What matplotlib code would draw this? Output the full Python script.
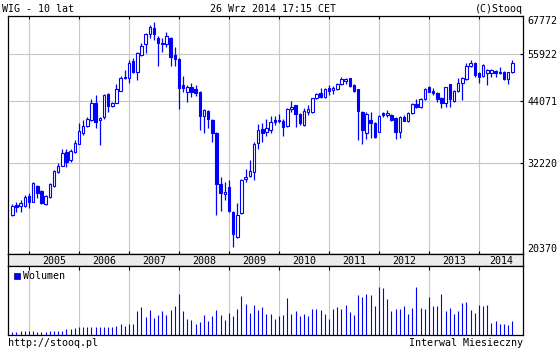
import matplotlib
matplotlib.use("Agg")
import matplotlib.pyplot as plt
from matplotlib.ticker import NullLocator, NullFormatter
import numpy as np
import pandas as pd

plt.rcParams['font.family'] = 'DejaVu Sans Mono'
FS = 7.2
BLUE = '#0000ff'
GRID = '#c8c8c8'

# WIG, monthly candles Sep 2004 .. Sep 2014
months = pd.period_range("2004-09", "2014-09", freq="M")

o = [24790, 26080, 25950, 25950, 27280, 26520, 28700, 27980, 26210, 27190,
     28700, 30840, 31790, 34120, 32710, 34120, 35550, 37430, 38890, 39960,
     43670, 39960, 40700, 45560, 43020, 43670, 46390, 49790, 49390, 53890,
     51060, 55540, 58620, 61650, 63640, 60600, 59090, 58620, 60510, 55540,
     54510, 47740, 46020, 47340, 46720, 46160, 40900, 41880, 40020, 37540,
     28940, 27520, 28550, 25210, 22160, 25010, 29730, 30230, 30840, 35590,
     38190, 37730, 38050, 40020, 39820, 39820, 38830, 42240, 43170, 41250,
     38930, 41670, 41610, 44650, 45930, 45010, 46960, 46560, 46790, 47990,
     48790, 49390, 47740, 46720, 41740, 37430, 40020, 39490, 37730, 41400,
     41040, 41040, 40370, 37620, 40570, 39880, 41400, 43390, 42800, 44430,
     47340, 46390, 45790, 44650, 43540, 47990, 44110, 46320, 48310, 49140,
     52550, 53270, 50770, 49960, 50650, 50770, 51240, 51060, 51060, 49140,
     51060]
h = [26210, 26520, 26740, 27420, 27660, 29330, 28840, 28120, 27420, 29180,
     31110, 32180, 34530, 34530, 34530, 36180, 39370, 40020, 40640, 44490,
     45400, 40700, 45630, 45790, 43760, 47990, 49960, 51490, 54160, 54790,
     56470, 58920, 61960, 64600, 65490, 61210, 60600, 62460, 60660, 57740,
     54790, 49960, 47740, 48160, 47630, 46320, 42240, 42090, 40170, 37730,
     30080, 29330, 29580, 25300, 26300, 29730, 31220, 32710, 35880, 39230,
     39370, 40230, 40840, 40840, 41190, 40170, 42510, 44040, 43230, 41400,
     42510, 43170, 44790, 45930, 46960, 47100, 47740, 47510, 48310, 49790,
     49390, 49540, 47920, 46790, 41880, 41740, 41610, 39680, 41040, 41740,
     42090, 41250, 40570, 40840, 41040, 41610, 43670, 44430, 44650, 46960,
     47510, 46960, 46020, 44880, 47340, 47990, 46560, 49390, 49790, 53460,
     54160, 53730, 51040, 53080, 51670, 51670, 51490, 52350, 51240, 51060,
     54290]
l = [24670, 25210, 25210, 25860, 25650, 26450, 26970, 26210, 26080, 27060,
     28600, 30690, 31740, 31540, 32440, 33840, 35520, 37110, 38640, 39820,
     38390, 35280, 40170, 41740, 42800, 43540, 46320, 49140, 48160, 50650,
     48960, 55340, 56190, 60420, 59900, 52620, 56470, 57910, 52620, 52620,
     42240, 46020, 43890, 44830, 45060, 38050, 37430, 38440, 35770, 24790,
     25340, 26740, 25210, 21130, 22100, 24880, 29330, 30080, 29580, 34580,
     35880, 36920, 37540, 38970, 39490, 36980, 38700, 41740, 38700, 39030,
     38830, 41040, 41400, 44430, 44650, 44790, 45400, 45560, 46560, 47740,
     47990, 47340, 46020, 36180, 35460, 36370, 36500, 36600, 37620, 40700,
     40700, 39880, 36370, 36500, 39820, 39680, 41190, 42460, 42590, 44270,
     46020, 45400, 43760, 42460, 42800, 42800, 43890, 46160, 44270, 48960,
     52200, 49790, 48310, 49640, 47740, 49640, 49790, 50470, 48960, 48090,
     50770]
c = [25950, 25780, 26380, 27190, 26520, 29180, 27750, 26380, 27280, 28940,
     30950, 31740, 33940, 32340, 34240, 35700, 37810, 38830, 40170, 43670,
     39560, 40370, 45400, 43020, 43540, 46790, 49540, 49390, 53270, 50900,
     56190, 58120, 61650, 63860, 61650, 58920, 58620, 61120, 55070, 54350,
     46960, 46960, 47340, 45980, 45860, 40900, 42090, 40230, 37430, 28940,
     27660, 27800, 25340, 22500, 24790, 29580, 29990, 30950, 35460, 38050,
     37540, 38390, 39560, 39560, 40020, 38640, 42300, 42800, 41190, 39370,
     41780, 42410, 44650, 45630, 44880, 46720, 46390, 46960, 47990, 49140,
     49210, 47570, 46390, 41940, 38050, 41190, 39370, 36680, 40840, 41040,
     41400, 40020, 37730, 40570, 39880, 41400, 43390, 42670, 44490, 46720,
     46160, 45790, 44490, 43540, 47200, 44490, 46320, 48310, 49390, 52550,
     53460, 50210, 49790, 52810, 51490, 51490, 50770, 50650, 49140, 50900,
     53460]
vol = [300, 300, 370, 430, 400, 370, 300, 300, 330, 370,
       370, 430, 430, 570, 570, 700, 830, 770, 770, 830,
       830, 830, 830, 830, 830, 900, 1130, 930, 1070, 1130,
       2400, 2830, 1830, 2530, 1730, 2030, 2430, 2000, 2530, 2930,
       4130, 2400, 1600, 1500, 1130, 1330, 2030, 1430, 1930, 2530,
       2030, 1530, 2200, 1930, 2630, 3930, 3070, 2200, 3030, 2530,
       2830, 2130, 2130, 1630, 1930, 2030, 3730, 2130, 2400, 1930,
       2130, 1930, 2630, 2600, 2530, 2130, 1600, 2630, 2830, 2630,
       3030, 2330, 2030, 4030, 3830, 4130, 4030, 2930, 4830, 4730,
       3630, 2430, 2630, 2630, 2900, 2130, 2700, 4800, 2700, 2600,
       3800, 2900, 2900, 4100, 2400, 2700, 2100, 2400, 3200, 3300,
       2500, 2200, 3000, 2900, 3000, 1200, 1400, 1100, 1100, 1000,
       1400]

y_labels = [20370, 32220, 44071, 55922, 67772]

o, h, l, c, vol = map(np.array, (o, h, l, c, vol))
x = np.arange(len(months))
jan = x[months.month == 1]
years = months.year[months.month == 1]
xmin, xmax = -1.03, 122.57

fig = plt.figure(figsize=(5.6, 3.5), dpi=100)
ax = fig.add_axes([8/560, 96/350, 515/560, 238.5/350])
band = fig.add_axes([8/560, 84/350, 515/560, 12/350])
axv = fig.add_axes([8/560, 15/350, 515/560, 69/350])

# candles
ax.vlines(x, l, h, color=BLUE, lw=0.9, zorder=2)
up = c >= o
bot = np.minimum(o, c)
top = np.maximum(o, c)
ax.bar(x[up], (top - bot)[up], bottom=bot[up], width=0.62,
       facecolor='white', edgecolor=BLUE, lw=0.8, zorder=3)
ax.bar(x[~up], (top - bot)[~up], bottom=bot[~up], width=0.62,
       facecolor=BLUE, edgecolor=BLUE, lw=0.8, zorder=3)

ax.set_yscale('log')
ax.set_ylim(y_labels[0], y_labels[-1])
ax.set_xlim(xmin, xmax)
ax.yaxis.set_minor_locator(NullLocator())
ax.yaxis.set_minor_formatter(NullFormatter())
ax.set_yticks(y_labels)
ax.set_yticklabels([str(v) for v in y_labels])
ax.set_xticks(jan)
ax.grid(True, color=GRID, lw=0.8)
ax.set_axisbelow(True)
ax.tick_params(axis='x', direction='in', top=True, bottom=True, length=2.2,
               width=0.8, labelbottom=False)
ax.tick_params(axis='y', direction='in', left=False, right=True, length=2.2,
               width=0.8, labelleft=False, labelright=True, labelsize=FS, pad=3)
tl = ax.get_yticklabels()
tl[0].set_va('bottom')
tl[-1].set_va('top')
for s in ax.spines.values():
    s.set_linewidth(0.9)

# year band
band.set_facecolor('#ececec')
band.set_xlim(xmin, xmax)
band.set_ylim(0, 1)
band.set_xticks([])
band.set_yticks([])
edges = list(jan) + [xmax]
for i, yr in enumerate(years):
    band.text((edges[i] + edges[i + 1]) / 2, 0.45, str(yr), ha='center',
              va='center', fontsize=FS)
for s in band.spines.values():
    s.set_linewidth(0.9)

# volume
axv.vlines(x, 0, vol, color=BLUE, lw=0.8, zorder=2)
axv.set_xlim(xmin, xmax)
axv.set_ylim(0, 6900)
axv.set_xticks(jan)
axv.set_yticks([])
axv.grid(True, axis='x', color=GRID, lw=0.8)
axv.set_axisbelow(True)
axv.tick_params(axis='x', direction='in', top=True, bottom=False, length=3,
                width=0.8, labelbottom=False)
for s in axv.spines.values():
    s.set_linewidth(0.9)
axv.plot([0.0175], [0.855], marker='s', ms=4.6, color=BLUE, mec='#000080',
         mew=0.5, transform=axv.transAxes, clip_on=False)
axv.text(0.029, 0.855, 'Wolumen', fontsize=FS, va='center', ha='left',
         transform=axv.transAxes)

# header / footer
fig.text(2/560, (350 - 11.5)/350, 'WIG - 10 lat', fontsize=FS, va='baseline')
fig.text(273/560, (350 - 11.5)/350, '26 Wrz 2014 17:15 CET', fontsize=FS,
         va='baseline', ha='center')
fig.text(523/560, (350 - 11.5)/350, '(C)Stooq', fontsize=FS, va='baseline',
         ha='right')
fig.text(8/560, (350 - 346.5)/350, 'http://stooq.pl', fontsize=FS,
         va='baseline')
fig.text(523/560, (350 - 346.5)/350, 'Interwal Miesieczny', fontsize=FS,
         va='baseline', ha='right')

fig.savefig('out.png', dpi=100)
